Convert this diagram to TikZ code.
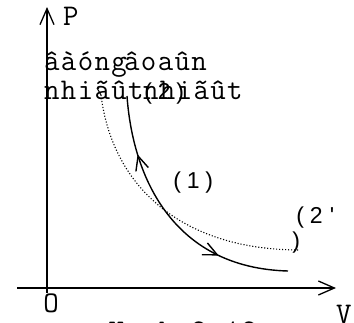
\documentclass[tikz,border=0pt]{standalone}
\usepackage{fontspec}
\newfontfamily\vmono{Latin Modern Mono}[LetterSpace=4.5]
\newfontfamily\vsans{Liberation Sans}
\usetikzlibrary{arrows.meta,decorations.markings}
\newcommand{\cellbox}[1]{\makebox[16pt]{#1}}
\begin{document}
\begin{tikzpicture}[x=1pt,y=-1pt,
  monotext/.style={font=\vmono\fontsize{30}{30}\selectfont, inner sep=0pt, anchor=base west},
  sanstext/.style={font=\vsans\fontsize{23}{25}\selectfont, inner sep=0pt, anchor=base west},
  axis/.style={line width=1.5pt, -{Straight Barb[length=16pt,width=14pt,line width=1.3pt]}},
  curve/.style={line width=1.4pt},
  dotcurve/.style={line width=1.1pt, dash pattern=on 1.1pt off 1.9pt}]
\useasboundingbox (0,0) rectangle (354,322);
% axes
\coordinate (yb) at (47,293);
\coordinate (yt) at (47,7);
\coordinate (xl) at (17,288);
\coordinate (xr) at (336,288);
\draw[axis] (yb) -- (yt);
\draw[axis] (xl) -- (xr);
% labels
\node[monotext] (P) at (63,25) {P};
\node[monotext,anchor=base] (O) at (51,312) {O};
\node[monotext] (V) at (336,323) {V};
\node[monotext] (iso1) at (44,70) {âàóng};
\node[monotext] (iso2) at (44,99) {nhiãût};
\node[monotext] (adi1) at (124,70) {âoaûn};
\node[monotext] (adi2) at (143,99) {nhiãût};
\node[sanstext] (l2) at (140,99) {\cellbox{(}\cellbox{2}\cellbox{)}};
\node[sanstext] (l1) at (169,188) {\cellbox{(}\cellbox{1}\cellbox{)}};
\node[sanstext] (l2p) at (292,223) {\cellbox{(}\cellbox{2}\cellbox{'}};
\node[sanstext] (l2pb) at (288,248) {\cellbox{)}};
\node[monotext] (cap) at (108.5,340) {Hçnh 2.12};
% curves
\coordinate (sA) at (127,96);
\coordinate (sB) at (288,271);
\coordinate (dA) at (101,95);
\coordinate (dB) at (300,250);
\coordinate (dT) at (97,88);
\draw[curve, postaction={decorate}, decoration={markings,
   mark=at position 0.225 with {\arrowreversed{Straight Barb[length=14pt,width=13pt]}},
   mark=at position 0.73 with {\arrow{Straight Barb[length=14pt,width=13pt]}}}]
   (sA) .. controls (133,180) and (175,268) .. (sB);
\draw[dotcurve] (dA) .. controls (112,185) and (180,250) .. (dB);
\draw[line width=1pt] (dT) -- (dA);
\end{tikzpicture}
\end{document}
